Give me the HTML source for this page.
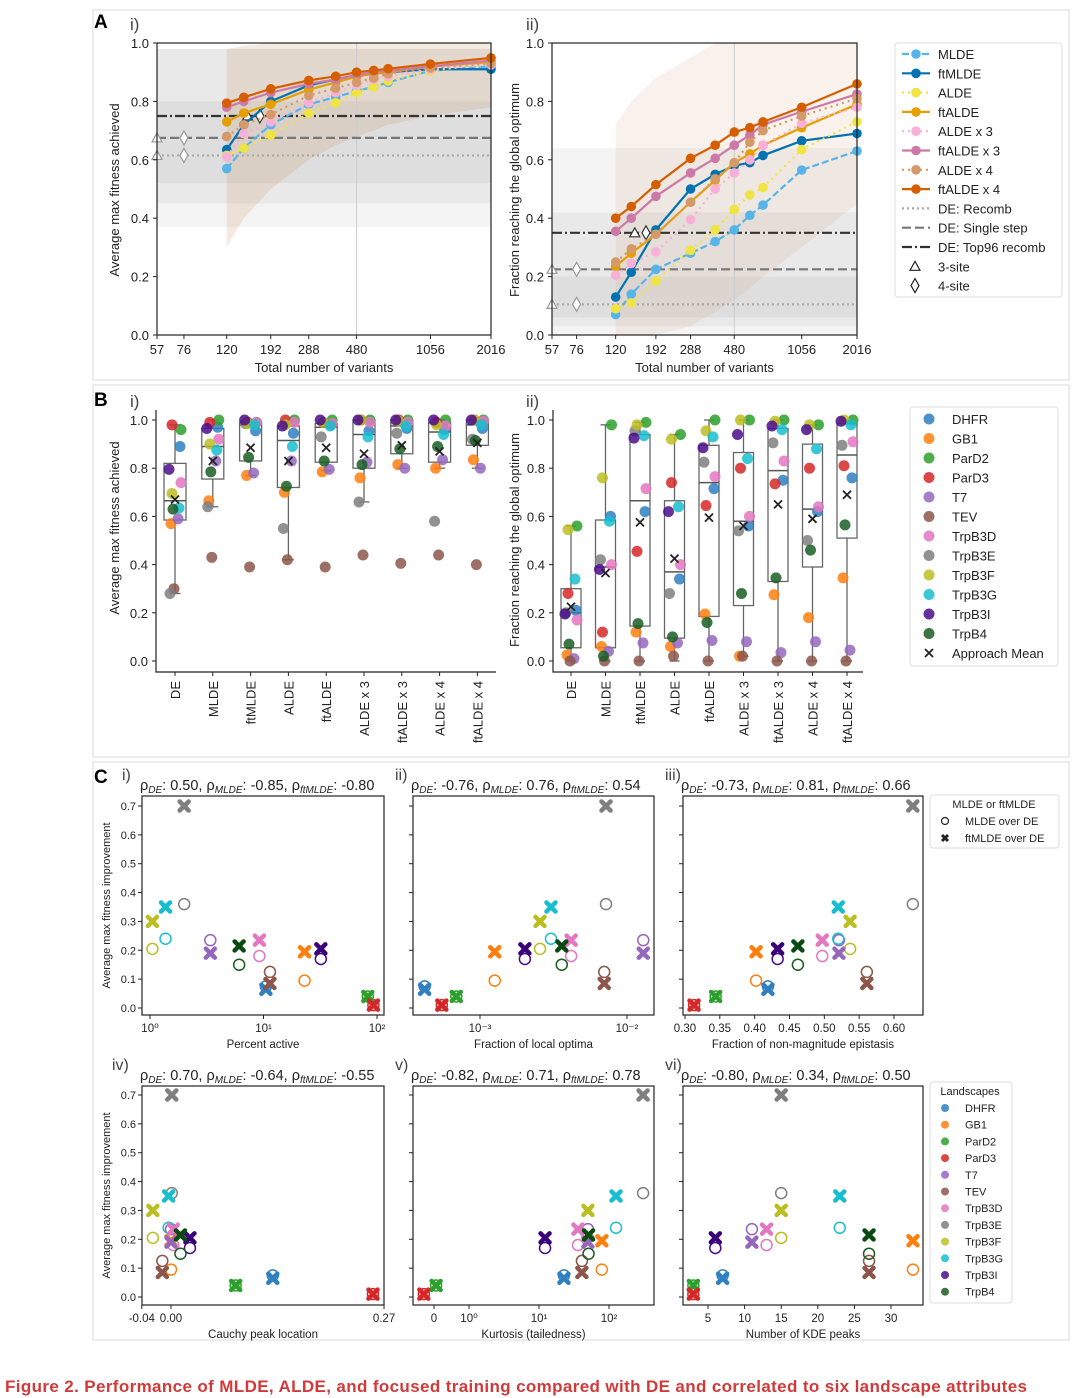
<!DOCTYPE html>
<html><head><meta charset="utf-8">
<style>
html,body{margin:0;padding:0;background:#fff;}
svg{display:block;font-family:"Liberation Sans","DejaVu Sans",sans-serif;}
</style></head>
<body>
<svg id="fig" width="1080" height="1398" viewBox="0 0 1080 1398" xmlns="http://www.w3.org/2000/svg">
<rect x="93" y="10" width="976" height="370" fill="none" stroke="#d8d8d8"/>
<rect x="93" y="385" width="976" height="372" fill="none" stroke="#d8d8d8"/>
<rect x="93" y="762" width="976" height="578" fill="none" stroke="#d8d8d8"/>
<text x="94" y="28" font-size="19" font-weight="bold">A</text>
<text x="94" y="406" font-size="19" font-weight="bold">B</text>
<text x="94" y="783" font-size="19" font-weight="bold">C</text>
<text x="130" y="30" font-size="17" fill="#444">i)</text>
<text x="526" y="30" font-size="17" fill="#444">ii)</text>
<text x="130" y="407" font-size="17" fill="#444">i)</text>
<text x="526" y="407" font-size="17" fill="#444">ii)</text>
<text x="5" y="1392" font-size="17" font-weight="bold" fill="#d23a3a" textLength="1022">Figure 2.  Performance of MLDE, ALDE, and focused training compared with DE and correlated to six landscape attributes</text>
</svg>
<script>
// ---------- Panel A data ----------
const aX=[120,144,192,288,384,480,576,672,1056,2016];
const aTicks=[57,76,120,192,288,480,1056,2016];
const methods=['MLDE','ftMLDE','ALDE','ftALDE','ALDE x 3','ftALDE x 3','ALDE x 4','ftALDE x 4'];
const aiMLDE=[0.57,0.64,0.72,0.79,0.815,0.835,0.85,0.865,0.905,0.92];
const aiFtMLDE=[0.635,0.72,0.80,0.855,0.875,0.89,0.895,0.90,0.91,0.91];
const aiALDE=[0.615,0.64,0.685,0.76,0.795,0.83,0.85,0.87,0.905,0.93];
const aiFtALDE=[0.73,0.76,0.79,0.84,0.865,0.885,0.895,0.90,0.92,0.935];
const aiALDE3=[0.61,0.69,0.73,0.795,0.83,0.855,0.875,0.885,0.91,0.925];
const aiFtALDE3=[0.78,0.80,0.83,0.86,0.875,0.89,0.90,0.905,0.92,0.94];
const aiALDE4=[0.68,0.72,0.755,0.82,0.845,0.865,0.88,0.895,0.915,0.93];
const aiFtALDE4=[0.794,0.814,0.843,0.872,0.886,0.90,0.906,0.912,0.928,0.949];
const aiiMLDE=[0.07,0.14,0.225,0.28,0.32,0.36,0.41,0.445,0.565,0.63];
const aiiFtMLDE=[0.13,0.215,0.36,0.50,0.55,0.58,0.59,0.615,0.665,0.69];
const aiiALDE=[0.09,0.11,0.185,0.29,0.36,0.43,0.48,0.505,0.635,0.73];
const aiiFtALDE=[0.235,0.28,0.345,0.455,0.53,0.59,0.62,0.65,0.71,0.79];
const aiiALDE3=[0.205,0.245,0.285,0.395,0.50,0.555,0.60,0.65,0.725,0.78];
const aiiFtALDE3=[0.355,0.40,0.475,0.555,0.605,0.65,0.685,0.72,0.765,0.825];
const aiiALDE4=[0.25,0.295,0.345,0.455,0.535,0.59,0.66,0.70,0.75,0.81];
const aiiFtALDE4=[0.40,0.44,0.515,0.605,0.65,0.695,0.71,0.73,0.78,0.86];
const aiDE=[0.615,0.675,0.75];
const aiiDE=[0.105,0.225,0.35];
const aiEnvLow=[0.30,0.40,0.50,0.60,0.65,0.68,0.70,0.72,0.75,0.78];
const aiEnvHigh=[0.98,0.99,1,1,1,1,1,1,1,1];
const aiiEnvLow=[0,0,0,0.03,0.08,0.12,0.16,0.2,0.3,0.45];
const aiiEnvHigh=[0.72,0.8,0.88,0.95,1,1,1,1,1,1];
const aiDEBands=[[0.52,0.80],[0.45,0.98],[0.37,0.98]];
const aiiDEBands=[[0.06,0.64],[0.03,0.42],[0.0,0.2]];
const yTicksA=[0,0.2,0.4,0.6,0.8,1.0];

// ---------- Panel B data ----------
const bCats=['DE','MLDE','ftMLDE','ALDE','ftALDE','ALDE x 3','ftALDE x 3','ALDE x 4','ftALDE x 4'];
const lands=['DHFR','GB1','ParD2','ParD3','T7','TEV','TrpB3D','TrpB3E','TrpB3F','TrpB3G','TrpB3I','TrpB4'];
const biPoints=[
[0.89,0.57,0.96,0.98,0.59,0.30,0.74,0.28,0.695,0.635,0.795,0.63],
[0.97,0.665,1.0,0.99,0.83,0.43,0.92,0.64,0.90,0.875,0.965,0.785],
[0.955,0.77,0.99,0.99,0.78,0.39,0.99,0.985,0.985,0.98,1.0,0.845],
[0.945,0.70,1.0,1.0,0.83,0.42,0.99,0.55,0.98,0.89,0.975,0.725],
[0.98,0.785,1.0,0.99,0.795,0.39,0.985,0.93,0.99,0.975,1.0,0.83],
[0.955,0.76,1.0,1.0,0.825,0.44,0.99,0.66,1.0,0.93,1.0,0.815],
[0.965,0.815,1.0,1.0,0.80,0.405,0.99,0.945,0.995,0.975,1.0,0.88],
[0.96,0.80,1.0,0.99,0.835,0.44,0.975,0.58,0.98,0.94,1.0,0.89],
[0.965,0.835,1.0,1.0,0.80,0.40,0.995,0.92,1.0,0.98,1.0,0.915]];
const biQ1=[0.585,0.755,0.83,0.72,0.825,0.80,0.86,0.825,0.895];
const biMed=[0.665,0.89,0.98,0.915,0.97,0.94,0.975,0.95,0.98];
const biQ3=[0.82,0.965,0.99,0.975,0.985,1.0,1.0,0.99,1.0];
const biLo=[0.28,0.64,0.77,0.42,0.79,0.66,0.80,0.80,0.80];
const biHi=[0.98,1.0,1.0,1.0,1.0,1.0,1.0,1.0,1.0];
const biMean=[0.67,0.83,0.885,0.83,0.885,0.86,0.895,0.87,0.905];
const biiPoints=[
[0.21,0.025,0.56,0.28,0.01,0,0.17,0.2,0.545,0.34,0.195,0.07],
[0.60,0.06,0.98,0.12,0.04,0,0.40,0.42,0.76,0.58,0.38,0.02],
[0.62,0.12,0.99,0.455,0.075,0,0.715,0.955,0.98,0.935,0.925,0.155],
[0.34,0.06,0.94,0.74,0.075,0.02,0.40,0.28,0.92,0.64,0.62,0.10],
[0.715,0.195,1.0,0.645,0.085,0,0.765,0.825,0.955,0.93,0.885,0.16],
[0.56,0.02,1.0,0.80,0.08,0.02,0.60,0.54,1.0,0.84,0.94,0.28],
[0.75,0.275,1.0,0.735,0.035,0,0.83,0.905,0.995,0.96,0.975,0.345],
[0.62,0.18,0.98,0.80,0.08,0,0.64,0.50,0.98,0.88,0.96,0.46],
[0.76,0.345,1.0,0.81,0.045,0,0.91,0.895,1.0,0.98,0.995,0.565]];
const biiQ1=[0.055,0.055,0.145,0.095,0.185,0.23,0.33,0.39,0.51];
const biiMed=[0.20,0.39,0.665,0.37,0.74,0.58,0.79,0.63,0.855];
const biiQ3=[0.30,0.585,0.94,0.665,0.895,0.865,0.965,0.90,0.985];
const biiLo=[0,0,0,0,0,0.02,0,0,0];
const biiHi=[0.56,0.98,0.99,0.94,1.0,1.0,1.0,0.98,1.0];
const biiMean=[0.225,0.365,0.575,0.425,0.595,0.56,0.65,0.59,0.69];

// ---------- Panel C data ----------
const cMLDE=[0.075,0.095,0.04,0.01,0.235,0.125,0.18,0.36,0.205,0.24,0.17,0.15];
const cFtMLDE=[0.065,0.195,0.04,0.01,0.19,0.085,0.235,0.70,0.30,0.35,0.205,0.215];
const cPctActive=[10.5,23,83,93,3.4,11.4,9.2,2.0,1.05,1.37,32,6.1];
const cLocalOpt=[4.2e-4,1.26e-3,6.9e-4,5.5e-4,1.29e-2,7.0e-3,4.17e-3,7.2e-3,2.56e-3,3.04e-3,2.02e-3,3.6e-3];
const cNonMag=[0.419,0.402,0.344,0.313,0.521,0.561,0.497,0.627,0.537,0.520,0.433,0.462];
const cCauchy=[0.129,0.0,0.082,0.256,0.0,-0.011,0.003,0.001,-0.023,-0.003,0.024,0.012];
const cKurt=[22.7,79,0.06,-0.29,50,41,36,307,50,126,12.2,51];
const cKDE=[7,33,3,3,11,27,13,15,15,23,6,27];
const cRhoDE=['0.50','-0.76','-0.73','0.70','-0.82','-0.80'];
const cRhoMLDE=['-0.85','0.76','0.81','-0.64','0.71','0.34'];
const cRhoFt=['-0.80','0.54','0.66','-0.55','0.78','0.50'];
const cYTicks=[0,0.1,0.2,0.3,0.4,0.5,0.6,0.7];

// ---------- helpers ----------
const NS='http://www.w3.org/2000/svg';
const svg=document.getElementById('fig');
function mk(tag,attrs,parent){const e=document.createElementNS(NS,tag);for(const k in attrs)e.setAttribute(k,attrs[k]);(parent||svg).appendChild(e);return e;}
function tx(str,attrs,parent){const e=mk('text',attrs,parent);e.textContent=str;return e;}

const mColors=['#56B4E9','#0072B2','#F0E442','#E69F00','#F9B0D8','#CC79A7','#D49A6A','#D55E00'];
const mDash=['7,3','','2,4','','2,4','','2,4',''];
const lColors=['#2f7fc1','#ff7f0e','#2ca02c','#d62728','#9467bd','#8c564b','#e377c2','#7f7f7f','#bcbd22','#17becf','#4b0c8c','#195e23'];
const xColors=['#2f7fc1','#ff7f0e','#2ca02c','#d62728','#9467bd','#8c564b','#e377c2','#7f7f7f','#bcbd22','#17becf','#3a0078','#0a4a12'];

// ---------- Panel A ----------
function drawA(cfg){
  const g=mk('g',{});
  
  
  const L=cfg.left,R=cfg.right,T=43,B=335;
  const lnMin=Math.log(57),lnMax=Math.log(2016);
  const xs=v=>L+(Math.log(v)-lnMin)/(lnMax-lnMin)*(R-L);
  const ys=v=>B-v*(B-T);
  cfg.bands.forEach(b=>{
    const r=mk('rect',{x:L,y:ys(b[1]),width:R-L,height:ys(b[0])-ys(b[1]),fill:'rgba(0,0,0,0.045)'},g);
    
    
  });
  let pts=aX.map((x,i)=>xs(x)+','+ys(cfg.envHigh[i])).join(' ')+' '+aX.map((x,i)=>xs(x)+','+ys(cfg.envLow[i])).reverse().join(' ');
  const env=mk('polygon',{points:pts,fill:cfg.envFill},g);
  
  
  const vl=mk('line',{x1:xs(480),x2:xs(480),y1:T,y2:B,stroke:'#ccc','stroke-width':1},g);
  
  
  const deStyles=[['2,3','#aaa','de-recomb-line'],['9,4','#777','de-single-step-line'],['10,3,2,3','#333','de-top96-line']];
  cfg.de.forEach((v,i)=>{
    const l=mk('line',{x1:L,x2:R,y1:ys(v),y2:ys(v),stroke:deStyles[i][1],'stroke-width':2.2,'stroke-dasharray':deStyles[i][0]},g);
    
    
  });
  [[57,76],[57,76],[150,171]].forEach((pp,i)=>{
    const y=ys(cfg.de[i]);
    const t=mk('path',{d:`M${xs(pp[0])-5},${y+4} L${xs(pp[0])+5},${y+4} L${xs(pp[0])},${y-5} Z`,fill:'#fff',stroke:i==2?'#333':'#999','stroke-width':1.2},g);
    
    
    const d=mk('path',{d:`M${xs(pp[1])},${y-7} L${xs(pp[1])+4},${y} L${xs(pp[1])},${y+7} L${xs(pp[1])-4},${y} Z`,fill:'#fff',stroke:i==2?'#333':'#999','stroke-width':1.2},g);
    
    
  });
  cfg.series.forEach((s,k)=>{
    const pl=mk('polyline',{points:aX.map((x,i)=>xs(x)+','+ys(s[i])).join(' '),fill:'none',stroke:mColors[k],'stroke-width':2.2,'stroke-dasharray':mDash[k]},g);
    
    
    aX.forEach((x,i)=>{
      const c=mk('circle',{cx:xs(x),cy:ys(s[i]),r:4.8,fill:mColors[k]},g);
      
      
    });
  });
  const fr=mk('rect',{x:L,y:T,width:R-L,height:B-T,fill:'none',stroke:'#222','stroke-width':1.2},g);
  
  
  yTicksA.forEach(v=>{
    const tl=mk('line',{x1:L-4,x2:L,y1:ys(v),y2:ys(v),stroke:'#222'},g);
    
    
    const t=tx(v.toFixed(1),{x:L-8,y:ys(v)+5,'font-size':13,'text-anchor':'end',fill:'#222'},g);
    
    
  });
  aTicks.forEach(v=>{
    const tl=mk('line',{x1:xs(v),x2:xs(v),y1:B,y2:B+4,stroke:'#222'},g);
    
    
    const t=tx(String(v),{x:xs(v),y:B+19,'font-size':13,'text-anchor':'middle',fill:'#222'},g);
    
    
  });
  const xl=tx('Total number of variants',{x:(L+R)/2,y:372,'font-size':13,'text-anchor':'middle',fill:'#222'},g);
  
  
  const yl=tx(cfg.ylab,{x:0,y:0,'font-size':13,'text-anchor':'middle',fill:'#222',transform:`translate(${cfg.ylx},190) rotate(-90)`},g);
  
  
}
drawA({name:'chart-a-i',left:157,right:491,series:[aiMLDE,aiFtMLDE,aiALDE,aiFtALDE,aiALDE3,aiFtALDE3,aiALDE4,aiFtALDE4],de:aiDE,bands:aiDEBands,envLow:aiEnvLow,envHigh:aiEnvHigh,envFill:'rgba(205,150,100,0.2)',ylab:'Average max fitness achieved',ylx:119});
drawA({name:'chart-a-ii',left:552,right:857,series:[aiiMLDE,aiiFtMLDE,aiiALDE,aiiFtALDE,aiiALDE3,aiiFtALDE3,aiiALDE4,aiiFtALDE4],de:aiiDE,bands:aiiDEBands,envLow:aiiEnvLow,envHigh:aiiEnvHigh,envFill:'rgba(205,150,100,0.13)',ylab:'Fraction reaching the global optimum',ylx:519});

// Legend A
(function(){
  const g=mk('g',{});
  
  
  const bx=mk('rect',{x:895,y:43,width:167,height:254,rx:3,fill:'#fff',stroke:'#ddd'},g);
  
  
  const labs=methods.concat(['DE: Recomb','DE: Single step','DE: Top96 recomb','3-site','4-site']);
  labs.forEach((lab,i)=>{
    const y=54+i*19.3;
    if(i<8){
      const l=mk('line',{x1:902,x2:930,y1:y,y2:y,stroke:mColors[i],'stroke-width':2.2,'stroke-dasharray':mDash[i]},g);
      
      
      const c=mk('circle',{cx:916,cy:y,r:4.8,fill:mColors[i]},g);
      
      
    } else if(i<11){
      const st=[['2,3','#aaa'],['9,4','#777'],['10,3,2,3','#333']][i-8];
      const l=mk('line',{x1:902,x2:930,y1:y,y2:y,stroke:st[1],'stroke-width':2.2,'stroke-dasharray':st[0]},g);
      
      
    } else if(i==11){
      const p=mk('path',{d:`M910,${y+4} L920,${y+4} L915,${y-5} Z`,fill:'#fff',stroke:'#222','stroke-width':1.2},g);
      
      
    } else {
      const p=mk('path',{d:`M915,${y-7} L919,${y} L915,${y+7} L911,${y} Z`,fill:'#fff',stroke:'#222','stroke-width':1.2},g);
      
      
    }
    const t=tx(lab,{x:938,y:y+5,'font-size':13,fill:'#222'},g);
    
    
  });
})();

// ---------- Panel B ----------
const jit=[5,-4,6,-3,3,-1,6,-5,-3,4,-6,-2];
function drawB(cfg){
  const g=mk('g',{});
  
  
  const T=420,B=661;
  const ys=v=>B-v*(B-T);
  const xc=i=>cfg.x0+i*cfg.dx;
  bCats.forEach((cat,i)=>{
    const cx=xc(i),w=cfg.bw;
    const wl=mk('line',{x1:cx,x2:cx,y1:ys(cfg.lo[i]),y2:ys(cfg.hi[i]),stroke:'#666','stroke-width':1.3},g);
    
    
    [cfg.lo[i],cfg.hi[i]].forEach(v=>{
      const c=mk('line',{x1:cx-w/4,x2:cx+w/4,y1:ys(v),y2:ys(v),stroke:'#666','stroke-width':1.3},g);
      
      
    });
    const bx=mk('rect',{x:cx-w/2,y:ys(cfg.q3[i]),width:w,height:ys(cfg.q1[i])-ys(cfg.q3[i]),fill:'#fff',stroke:'#666','stroke-width':1.3},g);
    
    
    const md=mk('line',{x1:cx-w/2,x2:cx+w/2,y1:ys(cfg.med[i]),y2:ys(cfg.med[i]),stroke:'#555','stroke-width':1.5},g);
    
    
    cfg.pts[i].forEach((v,k)=>{
      const c=mk('circle',{cx:cx+jit[k],cy:ys(v),r:5.5,fill:lColors[k],'fill-opacity':0.85},g);
      
      
    });
    const m=cfg.mean[i],my=ys(m);
    const mx=mk('path',{d:`M${cx-4},${my-4} L${cx+4},${my+4} M${cx-4},${my+4} L${cx+4},${my-4}`,stroke:'#222','stroke-width':1.8},g);
    
    
    const tk=mk('line',{x1:cx,x2:cx,y1:672,y2:676,stroke:'#222'},g);
    
    
    const t=tx(cat,{x:0,y:0,'font-size':13,'text-anchor':'end',fill:'#222',transform:`translate(${cx+5},681) rotate(-90)`},g);
    
    
  });
  const ax=mk('path',{d:`M${cfg.left},410 L${cfg.left},672 L${cfg.right},672`,fill:'none',stroke:'#222','stroke-width':1.2},g);
  
  
  yTicksA.forEach(v=>{
    const tl=mk('line',{x1:cfg.left-4,x2:cfg.left,y1:ys(v),y2:ys(v),stroke:'#222'},g);
    
    
    const t=tx(v.toFixed(1),{x:cfg.left-8,y:ys(v)+5,'font-size':13,'text-anchor':'end',fill:'#222'},g);
    
    
  });
  const yl=tx(cfg.ylab,{x:0,y:0,'font-size':13,'text-anchor':'middle',fill:'#222',transform:`translate(${cfg.ylx},${cfg.yly}) rotate(-90)`},g);
  
  
}
drawB({name:'chart-b-i',left:156,right:496,x0:175,dx:37.8,bw:22,pts:biPoints,q1:biQ1,med:biMed,q3:biQ3,lo:biLo,hi:biHi,mean:biMean,ylab:'Average max fitness achieved',ylx:119,yly:528});
drawB({name:'chart-b-ii',left:553,right:863,x0:571,dx:34.5,bw:20,pts:biiPoints,q1:biiQ1,med:biiMed,q3:biiQ3,lo:biiLo,hi:biiHi,mean:biiMean,ylab:'Fraction reaching the global optimum',ylx:519,yly:540});

// Legend B
(function(){
  const g=mk('g',{});
  
  
  const bx=mk('rect',{x:910,y:407,width:148,height:259,rx:3,fill:'#fff',stroke:'#ddd'},g);
  
  
  lands.concat(['Approach Mean']).forEach((lab,i)=>{
    const y=419+i*19.5;
    if(i<12){
      const c=mk('circle',{cx:929,cy:y,r:5.5,fill:lColors[i],'fill-opacity':0.85},g);
      
      
    } else {
      const p=mk('path',{d:`M925,${y-4} L933,${y+4} M925,${y+4} L933,${y-4}`,stroke:'#222','stroke-width':1.8},g);
      
      
    }
    const t=tx(lab,{x:952,y:y+5,'font-size':13,fill:'#222'},g);
    
    
  });
})();

// ---------- Panel C ----------
const lg=Math.log10;
const cPanels=[
 {id:'i',L:142,R:384,row:0,xs:v=>150+lg(v)*113.5,xv:cPctActive,ticks:[[1,'10⁰'],[10,'10¹'],[100,'10²']],xlab:'Percent active'},
 {id:'ii',L:413,R:654,row:0,xs:v=>480+(lg(v)+3)*147,xv:cLocalOpt,ticks:[[1e-3,'10⁻³'],[1e-2,'10⁻²']],xlab:'Fraction of local optima'},
 {id:'iii',L:683,R:923,row:0,xs:v=>685+(v-0.30)*696.7,xv:cNonMag,ticks:[[0.30,'0.30'],[0.35,'0.35'],[0.40,'0.40'],[0.45,'0.45'],[0.50,'0.50'],[0.55,'0.55'],[0.60,'0.60']],xlab:'Fraction of non-magnitude epistasis'},
 {id:'iv',L:142,R:384,row:1,xs:v=>171+v*789,xv:cCauchy,ticks:[[-0.037,'-0.04'],[0,'0.00'],[0.27,'0.27']],xlab:'Cauchy peak location'},
 {id:'v',L:413,R:654,row:1,xs:v=>434+(Math.abs(v)<=1?v*35:Math.sign(v)*(35+70*lg(Math.abs(v)))),xv:cKurt,ticks:[[0,'0'],[1,'10⁰'],[10,'10¹'],[100,'10²']],xlab:'Kurtosis (tailedness)'},
 {id:'vi',L:683,R:923,row:1,xs:v=>708+(v-5)*7.32,xv:cKDE,ticks:[[5,'5'],[10,'10'],[15,'15'],[20,'20'],[25,'25'],[30,'30']],xlab:'Number of KDE peaks'}
];
cPanels.forEach((p,pi)=>{
  const g=mk('g',{});
  
  
  const T=p.row?1086:796,B=p.row?1305:1015,y0=p.row?1297:1008,y7=p.row?1095:806;
  const ys=v=>y0-v/0.7*(y0-y7);
  const fr=mk('rect',{x:p.L,y:T,width:p.R-p.L,height:B-T,fill:'#fff',stroke:'#222','stroke-width':1.2},g);
  
  
  cYTicks.forEach(v=>{
    const tl=mk('line',{x1:p.L-4,x2:p.L,y1:ys(v),y2:ys(v),stroke:'#222'},g);
    
    
    if(pi%3==0){
      const t=tx(v.toFixed(1),{x:p.L-6,y:ys(v)+4,'font-size':11,'text-anchor':'end',fill:'#222'},g);
      
      
    }
  });
  p.ticks.forEach(tk=>{
    const x=p.xs(tk[0]);
    const tl=mk('line',{x1:x,x2:x,y1:B,y2:B+4,stroke:'#222'},g);
    
    
    const t=tx(tk[1],{x:x,y:B+17,'font-size':11.5,'text-anchor':'middle',fill:'#222'},g);
    
    
  });
  const xl=tx(p.xlab,{x:(p.L+p.R)/2,y:B+33,'font-size':11.5,'text-anchor':'middle',fill:'#222'},g);
  
  
  if(pi%3==0){
    const yl=tx('Average max fitness improvement',{x:0,y:0,'font-size':11,'text-anchor':'middle',fill:'#222',transform:`translate(110,${(T+B)/2}) rotate(-90)`},g);
    
    
  }
  const rn=tx(p.id+')',{x:p.L-(pi%3==0?(p.row?30:20):18),y:T-16,'font-size':16,fill:'#444'},g);
  
  
  const ti=mk('text',{x:p.L-2,y:T-6,'font-size':14.5,fill:'#222'},g);
  
  
  ti.innerHTML=`ρ<tspan dy="3" font-size="10" font-style="italic">DE</tspan><tspan dy="-3">: ${cRhoDE[pi]}, ρ</tspan><tspan dy="3" font-size="10" font-style="italic">MLDE</tspan><tspan dy="-3">: ${cRhoMLDE[pi]}, ρ</tspan><tspan dy="3" font-size="10" font-style="italic">ftMLDE</tspan><tspan dy="-3">: ${cRhoFt[pi]}</tspan>`;
  p.xv.forEach((xv,k)=>{
    const c=mk('circle',{cx:p.xs(xv),cy:ys(cMLDE[k]),r:5.5,fill:'none',stroke:lColors[k],'stroke-width':1.5},g);
    
    
  });
  p.xv.forEach((xv,k)=>{
    const x=p.xs(xv),y=ys(cFtMLDE[k]);
    const m=mk('path',{d:`M${x-4.5},${y-4.5} L${x+4.5},${y+4.5} M${x-4.5},${y+4.5} L${x+4.5},${y-4.5}`,stroke:xColors[k],'stroke-width':4.5,'stroke-linecap':'round'},g);
    
    
  });
});

// Legend C top
(function(){
  const g=mk('g',{});
  
  
  const bx=mk('rect',{x:930,y:795,width:129,height:53,rx:3,fill:'#fff',stroke:'#ddd'},g);
  
  
  const t0=tx('MLDE or ftMLDE',{x:994,y:808,'font-size':11,'text-anchor':'middle',fill:'#222'},g);
  
  
  const c=mk('circle',{cx:945,cy:821,r:3.5,fill:'none',stroke:'#222','stroke-width':1.2},g);
  
  
  const t1=tx('MLDE over DE',{x:965,y:825,'font-size':11,fill:'#222'},g);
  
  
  const m=mk('path',{d:'M942,835 L948,841 M942,841 L948,835',stroke:'#222','stroke-width':3},g);
  
  
  const t2=tx('ftMLDE over DE',{x:965,y:842,'font-size':11,fill:'#222'},g);
  
  
})();
// Legend C bottom
(function(){
  const g=mk('g',{});
  
  
  const bx=mk('rect',{x:930,y:1082,width:82,height:221,rx:3,fill:'#fff',stroke:'#ddd'},g);
  
  
  const t0=tx('Landscapes',{x:970,y:1095,'font-size':11,'text-anchor':'middle',fill:'#222'},g);
  
  
  lands.forEach((lab,i)=>{
    const y=1108+i*16.7;
    const c=mk('circle',{cx:945,cy:y,r:4,fill:lColors[i],'fill-opacity':0.85},g);
    
    
    const t=tx(lab,{x:965,y:y+4,'font-size':11,fill:'#222'},g);
    
    
  });
})();
</script>
</body></html>
